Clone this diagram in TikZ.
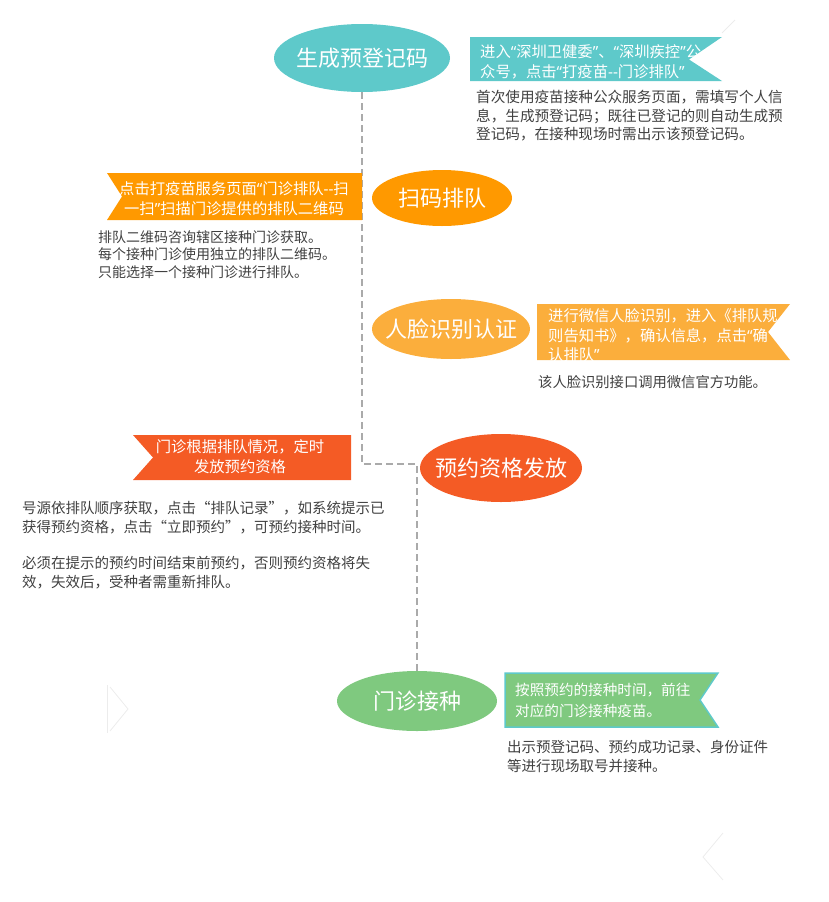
\documentclass[tikz,border=0pt]{standalone}
\usepackage{fontspec}
\setmainfont{Noto Sans CJK SC}
\newfontfamily\latinfont{Noto Sans}
\newcommand\oq{{\latinfont “}}
\newcommand\cq{{\latinfont ”}}
\newcommand\dd{{\latinfont -{}-}}
\usetikzlibrary{shapes.geometric}
\definecolor{cteal}{RGB}{94,201,202}
\definecolor{corange}{RGB}{255,153,0}
\definecolor{clight}{RGB}{251,174,60}
\definecolor{cred}{RGB}{244,91,37}
\definecolor{cgreen}{RGB}{127,201,127}
\definecolor{textgray}{RGB}{64,64,64}
\definecolor{dashgray}{RGB}{170,170,170}
\definecolor{faint}{RGB}{236,236,236}
\begin{document}
\begin{tikzpicture}[x=1pt,y=-1pt,
  oval/.style={ellipse, inner sep=0pt, text=white, font=\fontsize{22}{26}\selectfont},
  bantext/.style={text=white, font=\fontsize{15.3}{19.8}\selectfont, inner sep=0pt, anchor=north west, align=left},
  bantextc/.style={text=white, font=\fontsize{15.3}{20}\selectfont, inner sep=0pt, anchor=north, align=center},
  note/.style={text=textgray, font=\fontsize{14.3}{18.5}\selectfont, inner sep=0pt, anchor=north west, align=left},
  flow/.style={draw=dashgray, line width=2pt, dash pattern=on 7pt off 4pt},
  ghost/.style={draw=faint, line width=0.8pt}]
\useasboundingbox (0,0) rectangle (829,902);

% faint leftover marks
\draw[ghost] (107,685) -- (107,733);
\draw[ghost] (110,687) -- (128,709) -- (110,731);
\draw[ghost] (723,833) -- (703,857) -- (723,880);
\draw[ghost] (735,20) -- (722,33);

% ellipses
\node[oval, fill=cteal, minimum width=176pt, minimum height=68pt] (e1) at (362,58) {\makebox[0pt]{生成预登记码}};
\node[oval, fill=corange, minimum width=140pt, minimum height=56pt] (e2) at (442,198) {\makebox[0pt]{扫码排队}};
\node[oval, fill=clight, minimum width=158pt, minimum height=60pt] (e3) at (451,329) {\makebox[0pt]{人脸识别认证}};
\node[oval, fill=cred, minimum width=162pt, minimum height=68pt] (e4) at (501,468) {\makebox[0pt]{预约资格发放}};
\node[oval, fill=cgreen, minimum width=160pt, minimum height=60pt] (e5) at (417,701) {\makebox[0pt]{门诊接种}};

% connector
\draw[flow] (e1.south) -- (e1.south |- 0,464) -| (e5.north);

% banners
\fill[cteal] (470,37) -- (722,37) -- (689,59.5) -- (722,81) -- (470,81) -- cycle;
\node[bantext] (b1) at (480,44.7) {进入\oq 深圳卫健委\cq 、\oq 深圳疾控\cq 公\\众号，点击\oq 打疫苗\dd 门诊排队\cq};
\node[note, font=\fontsize{14.6}{18.5}\selectfont] (n1) at (476,90) {首次使用疫苗接种公众服务页面，需填写个人信\\息，生成预登记码；既往已登记的则自动生成预\\登记码，在接种现场时需出示该预登记码。};

\fill[corange] (107,173) -- (362,173) -- (362,220) -- (107,220) -- (122,196.5) -- cycle;
\node[bantextc] (b2) at (234,181) {点击打疫苗服务页面\oq 门诊排队\dd 扫\\一扫\cq 扫描门诊提供的排队二维码};
\node[note, font=\fontsize{14}{17.8}\selectfont] (n2) at (98,230) {排队二维码咨询辖区接种门诊获取。\\每个接种门诊使用独立的排队二维码。\\只能选择一个接种门诊进行排队。};

\fill[clight] (537,304) -- (790,304) -- (768,332) -- (790,360) -- (537,360) -- cycle;
\node[bantext, font=\fontsize{15.3}{19.5}\selectfont] (b3) at (548,308.5) {进行微信人脸识别，进入《排队规\\则告知书》，确认信息，点击\oq 确\\认排队\cq};
\node[note] (n3) at (538,375) {该人脸识别接口调用微信官方功能。};

\fill[cred] (133,435) -- (351,435) -- (351,480) -- (133,480) -- (153,457.5) -- cycle;
\node[bantextc] (b4) at (240,439.7) {门诊根据排队情况，定时\\发放预约资格};
\node[note, font=\fontsize{14.5}{19}\selectfont] (n4) at (22,501) {号源依排队顺序获取，点击“排队记录”，如系统提示已\\获得预约资格，点击“立即预约”，可预约接种时间。\\[17pt]必须在提示的预约时间结束前预约，否则预约资格将失\\效，失效后，受种者需重新排队。};

\filldraw[fill=cgreen, draw=cteal, line width=1.5pt] (505,673) -- (718,673) -- (700,700) -- (718,727) -- (505,727) -- cycle;
\node[bantext, font=\fontsize{14.6}{20.5}\selectfont] (b5) at (515,683) {按照预约的接种时间，前往\\对应的门诊接种疫苗。};
\node[note, font=\fontsize{14.5}{19}\selectfont] (n5) at (507,740) {出示预登记码、预约成功记录、身份证件\\等进行现场取号并接种。};
\end{tikzpicture}
\end{document}
